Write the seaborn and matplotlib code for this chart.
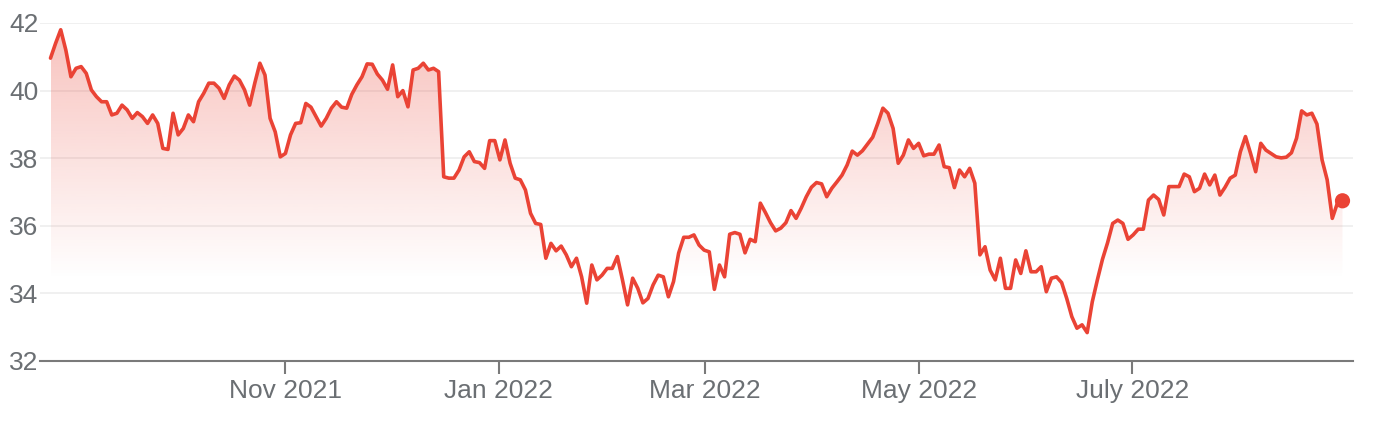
import numpy as np
import pandas as pd
import matplotlib
matplotlib.use("Agg")
import matplotlib.pyplot as plt
import matplotlib.dates as mdates
import seaborn as sns

# daily closing prices
prices = [
    40.96, 41.40, 41.80, 41.20, 40.41, 40.66, 40.71, 40.51, 40.02, 39.82,
    39.67, 39.67, 39.28, 39.33, 39.57, 39.43, 39.18, 39.35, 39.23, 39.03,
    39.28, 39.03, 38.29, 38.26, 39.33, 38.69, 38.88, 39.28, 39.08, 39.67,
    39.92, 40.22, 40.22, 40.07, 39.77, 40.17, 40.43, 40.31, 40.02, 39.57,
    40.22, 40.81, 40.46, 39.18, 38.78, 38.04, 38.14, 38.69, 39.03, 39.05,
    39.62, 39.51, 39.23, 38.95, 39.18, 39.48, 39.67, 39.51, 39.48, 39.89,
    40.17, 40.41, 40.79, 40.78, 40.49, 40.31, 40.04, 40.76, 39.82, 40.00,
    39.52, 40.61, 40.66, 40.81, 40.61, 40.66, 40.56, 37.45, 37.41, 37.41,
    37.65, 38.04, 38.19, 37.90, 37.87, 37.70, 38.52, 38.52, 37.95, 38.54,
    37.85, 37.41, 37.36, 37.06, 36.37, 36.07, 36.04, 35.04, 35.48, 35.26,
    35.40, 35.14, 34.79, 35.04, 34.49, 33.71, 34.84, 34.40, 34.54, 34.74,
    34.74, 35.09, 34.40, 33.66, 34.45, 34.15, 33.72, 33.85, 34.25, 34.54,
    34.49, 33.90, 34.35, 35.19, 35.66, 35.66, 35.73, 35.43, 35.28, 35.23,
    34.12, 34.84, 34.49, 35.75, 35.80, 35.75, 35.20, 35.60, 35.53, 36.67,
    36.39, 36.09, 35.85, 35.93, 36.09, 36.45, 36.22, 36.52, 36.86, 37.14,
    37.28, 37.24, 36.86, 37.11, 37.30, 37.50, 37.80, 38.21, 38.09, 38.22,
    38.42, 38.62, 39.03, 39.48, 39.33, 38.88, 37.85,
    38.09, 38.54, 38.29, 38.44, 38.07, 38.12, 38.12, 38.39, 37.75, 37.72,
    37.13, 37.65, 37.45, 37.70, 37.26, 35.14, 35.38, 34.69, 34.40, 35.04,
    34.15, 34.15, 34.99, 34.59, 35.26, 34.64, 34.64, 34.79, 34.05, 34.45,
    34.49, 34.32, 33.85, 33.31, 32.97, 33.07, 32.84, 33.75, 34.40, 35.01,
    35.50, 36.07, 36.17, 36.07, 35.60, 35.73, 35.90, 35.90, 36.76, 36.91,
    36.78, 36.32, 37.16, 37.16, 37.16, 37.53, 37.45, 37.01, 37.11, 37.53,
    37.21, 37.50, 36.91, 37.14, 37.41, 37.50, 38.19, 38.64, 38.14, 37.60,
    38.44, 38.24, 38.14, 38.04, 38.01, 38.03, 38.16, 38.59, 39.40, 39.28,
    39.33, 39.01, 37.95, 37.36, 36.22, 36.67, 36.74,
]
start_date = "2021-08-26"
end_date = "2022-08-30"

tick_dates = ["2021-11-01", "2022-01-01", "2022-03-01", "2022-05-01", "2022-07-01"]
tick_labels = ["Nov 2021", "Jan 2022", "Mar 2022", "May 2022", "July 2022"]
y_ticks = [32, 34, 36, 38, 40, 42]

LINE_RED = "#ea4335"
TEXT_GREY = "#6b6f73"
AXIS_GREY = "#7a7a7a"

df = pd.DataFrame({
    "date": pd.date_range(start_date, end_date, periods=len(prices)),
    "price": prices,
})

sns.set_theme(style="white")
plt.rcParams["font.family"] = ["Liberation Sans", "DejaVu Sans"]

fig = plt.figure(figsize=(13.79, 4.29), dpi=100)
ax = fig.add_axes([40 / 1379, 68 / 429, 1313 / 1379, 338 / 429])

sns.lineplot(data=df, x="date", y="price", color=LINE_RED, linewidth=2.6, ax=ax, zorder=3)
sns.scatterplot(data=df.tail(1), x="date", y="price", color=LINE_RED, s=120,
                edgecolor="none", ax=ax, zorder=4)

# vertical gradient under the line, clipped to the area below it
fill = ax.fill_between(df["date"], df["price"], y_ticks[0], facecolor="none", edgecolor="none")
x0 = mdates.date2num(df["date"].iloc[0])
x1 = mdates.date2num(df["date"].iloc[-1])
levels = np.linspace(y_ticks[-1], y_ticks[0], 256)
grad = np.zeros((256, 1, 4))
grad[:, :, :3] = matplotlib.colors.to_rgb(LINE_RED)
grad[:, 0, 3] = np.clip((levels - 34.4) / 7.6, 0, 1) * 0.33
img = ax.imshow(grad, extent=[x0, x1, y_ticks[0], y_ticks[-1]], aspect="auto",
                origin="upper", zorder=1, interpolation="bilinear")
img.set_clip_path(fill.get_paths()[0], transform=ax.transData)

ax.set_ylim(y_ticks[0], y_ticks[-1])
ax.set_yticks(y_ticks)
ax.set_xlim(mdates.date2num(pd.Timestamp("2021-08-23")), mdates.date2num(pd.Timestamp("2022-09-02")))
ax.set_xticks(mdates.date2num(pd.to_datetime(tick_dates)))
ax.set_xticklabels(tick_labels)
ax.set_xlabel("")
ax.set_ylabel("")

ax.grid(axis="y", color="#eeeeee", linewidth=1.2)
ax.grid(axis="x", visible=False)
ax.set_axisbelow(True)
for side in ["left", "right", "top"]:
    ax.spines[side].set_visible(False)
ax.spines["bottom"].set_color(AXIS_GREY)
ax.spines["bottom"].set_linewidth(1.5)

ax.tick_params(axis="x", bottom=True, length=9, width=1.5, color=AXIS_GREY,
               labelsize=19, labelcolor=TEXT_GREY, pad=4)
ax.tick_params(axis="y", left=False, length=0, labelsize=19, labelcolor=TEXT_GREY, pad=1)

fig.savefig("out.png", dpi=100)
plt.close(fig)
